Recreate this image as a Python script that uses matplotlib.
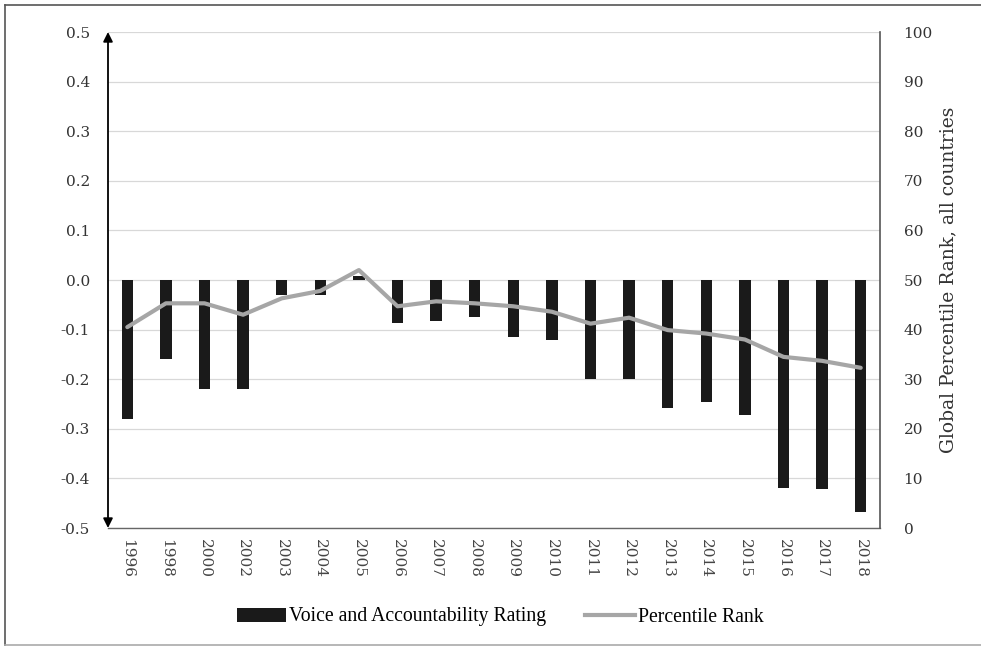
import matplotlib
matplotlib.use("Agg")
import matplotlib.pyplot as plt
from matplotlib.lines import Line2D
from matplotlib.patches import Patch
import numpy as np

years = ["1996", "1998", "2000", "2002", "2003", "2004", "2005", "2006", "2007", "2008",
         "2009", "2010", "2011", "2012", "2013", "2014", "2015", "2016", "2017", "2018"]
rating = [-0.28, -0.16, -0.22, -0.22, -0.03, -0.03, 0.008, -0.087, -0.082, -0.074,
          -0.115, -0.12, -0.20, -0.20, -0.258, -0.246, -0.272, -0.42, -0.422, -0.467]
percentile = [40.5, 45.3, 45.3, 43.0, 46.3, 47.8, 52.0, 44.7, 45.7, 45.3,
              44.7, 43.6, 41.2, 42.4, 39.9, 39.2, 38.0, 34.5, 33.7, 32.3]
left_ticks = [-0.5, -0.4, -0.3, -0.2, -0.1, 0.0, 0.1, 0.2, 0.3, 0.4, 0.5]
right_ticks = [0, 10, 20, 30, 40, 50, 60, 70, 80, 90, 100]

SERIF = ["DejaVu Serif", "Liberation Serif"]

fig = plt.figure(figsize=(9.81, 6.52), dpi=100)
ax = fig.add_axes([108/981, 1-528/652, (880-108)/981, (528-32)/652])
x = np.arange(len(years))

ax.set_ylim(-0.5, 0.5)
ax.set_xlim(-0.5, len(years) - 0.5)
ax.set_yticks(left_ticks)
ax.set_yticklabels([f"{v:.1f}" for v in left_ticks], family=SERIF, fontsize=11, color="#333333")
for v in left_ticks:
    ax.axhline(v, color="#d8d8d8", lw=0.9, zorder=0)
ax.bar(x, rating, width=0.3, color="#1a1a1a", zorder=2)
ax.set_xticks(x)
ax.set_xticklabels(years, rotation=270, family=SERIF, fontsize=11, color="#444444")
ax.tick_params(axis="both", length=0, pad=8)
ax.tick_params(axis="y", pad=13)
for s in ["left", "top", "right"]:
    ax.spines[s].set_visible(False)
ax.spines["bottom"].set_color("#666666")
ax.spines["bottom"].set_linewidth(1.0)

ax.annotate("", xy=(0, 1), xytext=(0, 0), xycoords="axes fraction", textcoords="axes fraction",
            arrowprops=dict(arrowstyle="<|-|>", color="black", lw=1.3, mutation_scale=14,
                            shrinkA=0, shrinkB=0), zorder=5)

ax2 = ax.twinx()
ax2.set_ylim(0, 100)
ax2.set_yticks(right_ticks)
ax2.set_yticklabels([str(v) for v in right_ticks], family=SERIF, fontsize=11, color="#333333")
ax2.tick_params(axis="y", length=0, pad=17)
ax2.plot(x, percentile, color="#a6a6a6", lw=3, solid_joinstyle="round", solid_capstyle="round", zorder=3)
for s in ["left", "top", "bottom"]:
    ax2.spines[s].set_visible(False)
ax2.spines["right"].set_color("#555555")
ax2.spines["right"].set_linewidth(1.2)
ax2.set_ylabel("Global Percentile Rank, all countries", family=SERIF, fontsize=13.5,
               color="#333333", labelpad=5)

handles = [Patch(facecolor="#1a1a1a", edgecolor="none"),
           Line2D([0], [0], color="#a6a6a6", lw=3)]
fig.legend(handles, ["Voice and Accountability Rating", "Percentile Rank"],
           loc="center", bbox_to_anchor=(500/981, 1-617/652), ncol=2, frameon=False,
           prop={"family": "Liberation Serif", "size": 14.2}, handlelength=2.5,
           handletextpad=0.15, columnspacing=2.0)

# outer frame
fx0, fy0, fy1 = 5/981, 1-645/652, 1-5/652
fig.add_artist(Line2D([fx0, 1.0], [fy1, fy1], transform=fig.transFigure, color="#555555", lw=1.2))
fig.add_artist(Line2D([fx0, fx0], [fy0, fy1], transform=fig.transFigure, color="#555555", lw=1.2))
fig.add_artist(Line2D([fx0, 1.0], [fy0, fy0], transform=fig.transFigure, color="#aaaaaa", lw=1.2))

fig.savefig("out.png", dpi=100)
